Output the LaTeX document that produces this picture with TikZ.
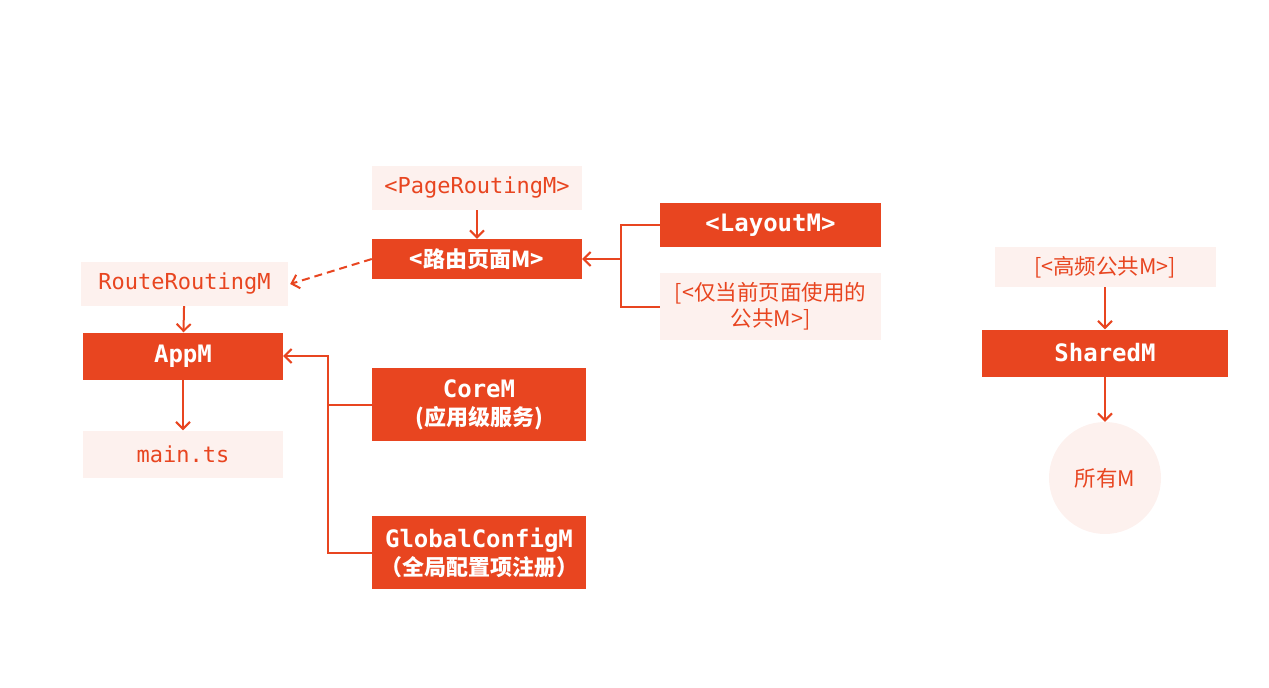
\documentclass[tikz,border=0pt]{standalone}
\usepackage{fontspec}
\setmonofont{DejaVu Sans Mono}
\newfontfamily\cjk{Noto Sans CJK SC}
\usetikzlibrary{arrows.meta}
\definecolor{accent}{HTML}{E84520}
\definecolor{pale}{HTML}{FDF1EE}
\newcommand{\mono}{\fontsize{22}{26}\selectfont\ttfamily}
\newcommand{\monob}{\fontsize{24}{28}\selectfont\ttfamily\bfseries}
\newcommand{\cj}{\fontsize{21.5}{26}\selectfont\cjk}
\newcommand{\cjb}{\fontsize{22}{28}\selectfont\cjk\bfseries}
\begin{document}
\begin{tikzpicture}[x=1pt,y=-1pt,
  dark/.style={fill=accent, text=white, inner sep=0pt, align=center},
  light/.style={fill=pale, text=accent, inner sep=0pt, align=center},
  line/.style={draw=accent, line width=2pt},
  conn/.style={line, -{Straight Barb[length=7pt,width=14pt,line width=2pt]}}
]
\useasboundingbox (0,0) rectangle (1269,688);
\node[light, minimum width=210pt, minimum height=44pt, font=\mono] (prm) at (477,188) {<PageRoutingM>};
\node[dark, minimum width=210pt, minimum height=40pt, font=\cjb] (route) at (477,259) {<路由页面M>};
\node[dark, minimum width=221pt, minimum height=44pt, font=\monob] (layout) at (770.5,225) {<LayoutM>};
\node[light, minimum width=221pt, minimum height=67pt, font=\cj] (pub) at (770.5,306.5) {[<仅当前页面使用的\\公共M>]};
\node[light, minimum width=207pt, minimum height=44pt, font=\mono] (rr) at (184.5,284) {RouteRoutingM};
\node[dark, minimum width=200pt, minimum height=47pt, font=\monob] (app) at (183,356) {AppM};
\node[light, minimum width=200pt, minimum height=47pt, font=\mono] (main) at (183,454) {main.ts};
\node[dark, minimum width=214pt, minimum height=73pt, font=\cjb] (core) at (479,404.5) {{\monob CoreM}\\{\cjb (应用级服务)}};
\node[dark, minimum width=214pt, minimum height=73pt, font=\cjb] (global) at (479,552.5) {{\monob GlobalConfigM}\\{\cjb （全局配置项注册）}};
\node[light, minimum width=221pt, minimum height=40pt, font=\cj] (hf) at (1105,267) {[<高频公共M>]};
\node[dark, minimum width=246pt, minimum height=47pt, font=\monob] (shared) at (1105,353) {SharedM};
\node[light, circle, minimum size=112pt, font=\cj] (all) at (1105,478) {所有M};
\coordinate (j1) at (621,259);
\coordinate (j2) at (328,356);
\draw[conn] (prm) -- (route);
\draw[conn] (layout.west) -| (j1) -- (route.east);
\draw[line] (pub.west) -| (j1);
\draw[conn, dashed, dash pattern=on 8pt off 5pt] (route.west) -- ([xshift=2pt]rr.east);
\draw[conn] (rr) -- (app);
\draw[conn] (app) -- (main);
\draw[conn] (core.west) -| (j2) -- (app.east);
\draw[line] (global.west) -| (j2);
\draw[conn] (hf) -- (shared);
\draw[conn] (shared) -- (all);
\end{tikzpicture}
\end{document}
